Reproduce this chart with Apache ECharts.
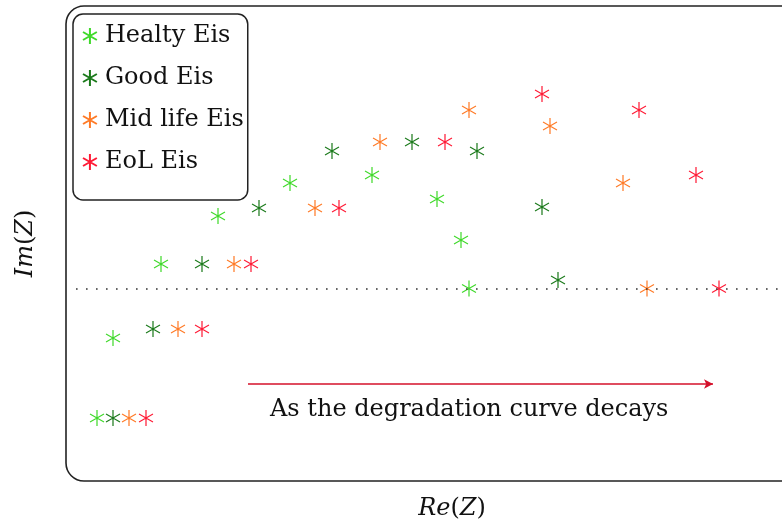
<!DOCTYPE html>
<html>
<head>
<meta charset="utf-8">
<script src="https://cdn.jsdelivr.net/npm/echarts@6/dist/echarts.min.js"></script>
<style>html,body{margin:0;padding:0;background:#fff;}#c{width:782px;height:522px;}</style>
</head>
<body>
<div id="c"></div>
<script>
// Data (arbitrary Re(Z), Im(Z) units)
var seriesNames = ['Healty Eis', 'Good Eis', 'Mid life Eis', 'EoL Eis'];
var healthy = [[0.62,-2.59],[0.94,-0.99],[1.90,0.49],[3.04,1.45],[4.48,2.11],[6.12,2.27],[7.42,1.79],[7.90,0.97],[8.06,0.0]];
var good    = [[0.94,-2.59],[1.74,-0.81],[2.72,0.49],[3.86,1.61],[5.32,2.75],[6.92,2.93],[8.22,2.75],[9.52,1.63],[9.84,0.17]];
var midLife = [[1.26,-2.59],[2.24,-0.81],[3.36,0.49],[4.98,1.61],[6.28,2.93],[8.06,3.57],[9.68,3.25],[11.14,2.11],[11.62,0.0]];
var eol     = [[1.60,-2.59],[2.72,-0.81],[3.70,0.49],[5.46,1.61],[7.58,2.93],[9.52,3.89],[11.46,3.57],[12.60,2.27],[13.06,0.0]];
var arrowFrom = [3.64, -1.91];
var arrowTo = [12.94, -1.91];
var zeroLineRange = [0.2, 15.4];
var annotation = 'As the degradation curve decays';

var colors = ['#3fd92a', '#1b7a1b', '#ff7a26', '#ff1a35'];
var asterisk = 'path://M0,-1L0,1M-0.866,-0.5L0.866,0.5M-0.866,0.5L0.866,-0.5';
var serif = 'DejaVu Serif';

function makeSeries(name, data, color) {
  return {
    name: name, type: 'scatter', data: data,
    symbol: asterisk, symbolSize: [14, 16],
    itemStyle: { color: 'rgba(0,0,0,0)', borderColor: color, borderWidth: 1.3, opacity: 1 },
    emphasis: { disabled: true }
  };
}
var allData = [healthy, good, midLife, eol];
var series = seriesNames.map(function (n, i) { return makeSeries(n, allData[i], colors[i]); });
series[0].markLine = {
  silent: true, symbol: ['none', 'none'], animation: false,
  label: { show: false },
  lineStyle: { color: '#333', type: [1.6, 8.4], width: 1.6 },
  data: [[{ coord: [zeroLineRange[0], 0] }, { coord: [zeroLineRange[1], 0] }]]
};
series[1].markLine = {
  silent: true, symbol: ['none', 'arrow'], symbolSize: [7, 9], animation: false,
  label: { show: false },
  lineStyle: { color: '#d4102a', type: 'solid', width: 1.6 },
  data: [[{ coord: arrowFrom }, { coord: arrowTo }]]
};

var chart = echarts.init(document.getElementById('c'), null, { renderer: 'canvas' });
chart.setOption({
  animation: false,
  backgroundColor: '#fff',
  grid: { left: 66, top: 6, width: 772, height: 475, containLabel: false, outerBoundsMode: 'none' },
  xAxis: {
    type: 'value', min: 0, max: 15.44,
    name: '{i|Re}{r|(}{i|Z}{r|)}', nameLocation: 'middle', nameGap: 16,
    nameTextStyle: { rich: {
      i: { fontFamily: serif, fontStyle: 'italic', fontSize: 24, color: '#111' },
      r: { fontFamily: serif, fontSize: 24, color: '#111' } } },
    axisLine: { show: false }, axisTick: { show: false }, axisLabel: { show: false }, splitLine: { show: false }
  },
  yAxis: {
    type: 'value', min: -3.85, max: 5.65,
    name: '{i|Im}{r|(}{i|Z}{r|)}', nameLocation: 'middle', nameGap: 28, nameRotate: 90,
    nameTextStyle: { rich: {
      i: { fontFamily: serif, fontStyle: 'italic', fontSize: 24, color: '#111' },
      r: { fontFamily: serif, fontSize: 24, color: '#111' } } },
    axisLine: { show: false }, axisTick: { show: false }, axisLabel: { show: false }, splitLine: { show: false }
  },
  legend: {
    data: seriesNames, orient: 'vertical', left: 73, top: 14,
    padding: [7, 4, 23, 9], itemGap: 12, itemWidth: 14, itemHeight: 16,
    borderColor: '#222', borderWidth: 1.5, borderRadius: 10, backgroundColor: '#fff',
    selectedMode: false,
    textStyle: { fontFamily: serif, fontSize: 24, color: '#111', lineHeight: 30, padding: [0, 0, 0, 3] }
  },
  graphic: [
    { type: 'rect', z: -1, silent: true,
      shape: { x: 66, y: 6, width: 780, height: 475, r: 18 },
      style: { fill: 'none', stroke: '#222', lineWidth: 1.6 } },
    { type: 'text', silent: true, left: 270, top: 398,
      style: { text: annotation, font: '24px "DejaVu Serif"', fill: '#111' } }
  ],
  series: series
});
</script>
</body>
</html>
